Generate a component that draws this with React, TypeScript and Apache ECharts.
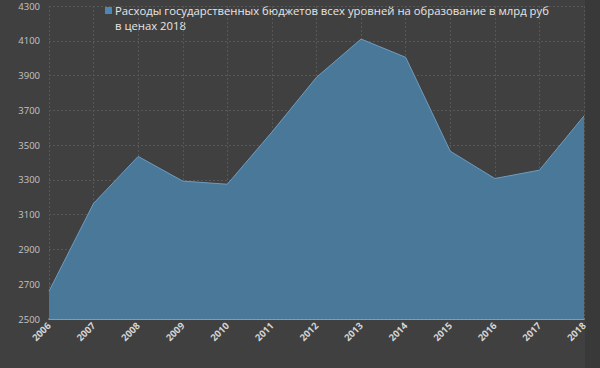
import React, { useEffect, useRef } from "react";
import * as echarts from "echarts";

const years = ["2006", "2007", "2008", "2009", "2010", "2011", "2012", "2013", "2014", "2015", "2016", "2017", "2018"];
const spending = [2660, 3165, 3435, 3293, 3275, 3575, 3890, 4110, 4005, 3465, 3308, 3356, 3668];
const seriesName = "Расходы государственных бюджетов всех уровней на образование в млрд руб";
const seriesNameLine2 = "в ценах 2018";
const yMin = 2500;
const yMax = 4300;
const yStep = 200;

export default function App() {
  const ref = useRef<HTMLDivElement>(null);
  useEffect(() => {
    if (!ref.current) return;
    const chart = echarts.init(ref.current, undefined, { renderer: "svg" });
    chart.setOption({
      animation: false,
      backgroundColor: "#404040",
      textStyle: { fontFamily: "Open Sans" },
      graphic: [
        { type: "rect", left: 585, top: 0, shape: { width: 15, height: 368 }, style: { fill: "#393939" }, z: -1 },
        {
          type: "text",
          left: 115,
          top: 20,
          style: { text: seriesNameLine2, fill: "#e6e6e6", font: "11.3px 'Open Sans'" },
        },
      ],
      legend: {
        left: 105,
        top: 5,
        padding: 0,
        itemWidth: 7,
        itemHeight: 7,
        itemGap: 4,
        icon: "rect",
        data: [{ name: seriesName, itemStyle: { color: "#4f86b3" } }],
        textStyle: { color: "#e6e6e6", fontSize: 11.3, fontFamily: "Open Sans", padding: [0, 0, 0, -2] },
      },
      grid: { left: 49, right: 16, top: 6, bottom: 49 },
      xAxis: {
        type: "category",
        data: years,
        boundaryGap: false,
        axisLine: { lineStyle: { color: "#9fb6c8", width: 1.5 } },
        axisTick: { show: false },
        axisLabel: {
          rotate: 45,
          color: "#d4d4d4",
          fontSize: 9.5,
          fontWeight: "bold",
          fontFamily: "Open Sans",
          margin: 5,
          interval: 0,
        },
        splitLine: { show: true, lineStyle: { color: "#575757", type: [2, 2], width: 1 } },
      },
      yAxis: {
        type: "value",
        min: yMin,
        max: yMax,
        interval: yStep,
        axisLine: { show: false },
        axisTick: { show: false },
        axisLabel: {
          color: "#c4c4c4",
          fontSize: 9.5,
          fontFamily: "Open Sans",
          margin: 9,
          formatter: (v: number) => String(v),
        },
        splitLine: { lineStyle: { color: "#575757", type: [2, 2], width: 1 } },
      },
      series: [
        {
          name: seriesName,
          type: "line",
          data: spending,
          symbol: "none",
          lineStyle: { color: "#6d9cc2", width: 1 },
          itemStyle: { color: "#4f86b3" },
          areaStyle: { color: "#4a7899", opacity: 1 },
        },
      ],
    });
    return () => chart.dispose();
  }, []);
  return <div ref={ref} style={{ width: 600, height: 368, position: "absolute", left: 0, top: 0 }} />;
}
